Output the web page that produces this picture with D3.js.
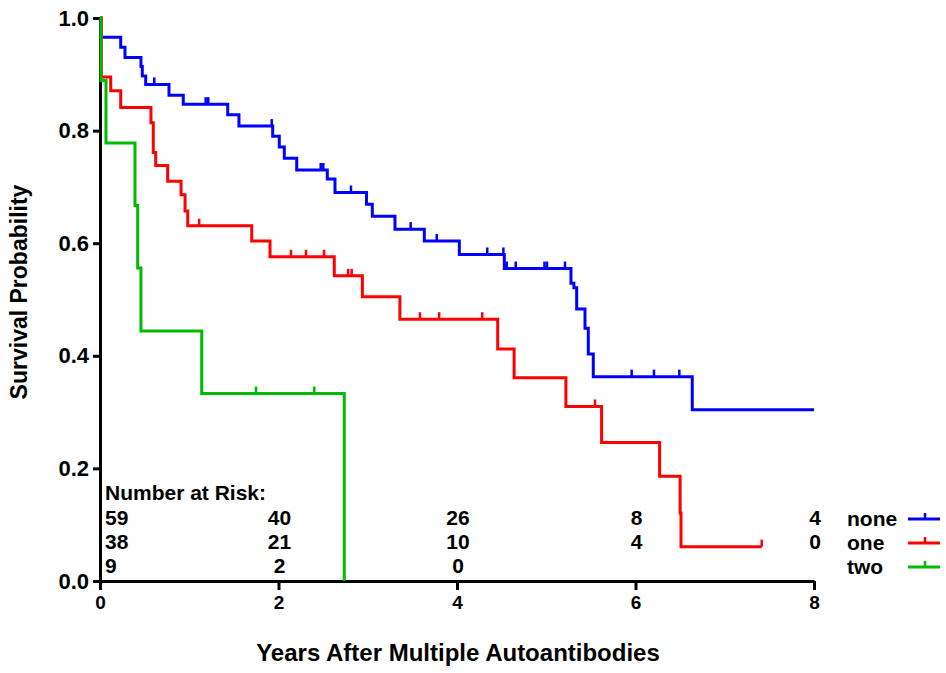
<!DOCTYPE html>
<html>
<head>
<meta charset="utf-8">
<script src="https://cdn.jsdelivr.net/npm/d3@7"></script>
<style>
  body { margin: 0; background: #fff; }
  svg { display: block; font-family: "Liberation Sans", Arial, sans-serif; font-weight: bold; }
</style>
</head>
<body>
<div id="chart"></div>
<script>
// Kaplan-Meier steps: [years, survival]
const noneSteps = [
  [0, 1], [0.011, 0.966], [0.232, 0.948], [0.28, 0.93], [0.459, 0.914], [0.474, 0.897],
  [0.512, 0.882], [0.773, 0.863], [0.933, 0.847], [1.431, 0.828], [1.557, 0.808],
  [1.935, 0.79], [2.009, 0.771], [2.065, 0.751], [2.204, 0.73], [2.547, 0.714],
  [2.633, 0.69], [2.986, 0.669], [3.051, 0.648], [3.305, 0.625], [3.634, 0.604],
  [4.026, 0.58], [4.53, 0.555], [5.277, 0.529], [5.31, 0.521], [5.341, 0.483],
  [5.434, 0.449], [5.471, 0.403], [5.527, 0.363], [6.636, 0.304], [8.0, 0.304]
];
const noneCensor = [0.608, 1.184, 1.213, 1.924, 2.473, 2.502, 2.812, 3.481, 3.773,
  4.339, 4.52, 4.557, 4.658, 4.98, 5.008, 5.21, 5.957, 6.207, 6.491];

const oneSteps = [
  [0, 1], [0.015, 0.895], [0.12, 0.871], [0.232, 0.841], [0.571, 0.814], [0.597, 0.761],
  [0.624, 0.738], [0.758, 0.71], [0.908, 0.686], [0.953, 0.657], [0.983, 0.631],
  [1.70, 0.604], [1.905, 0.576], [2.625, 0.542], [2.94, 0.505], [3.36, 0.465],
  [4.456, 0.412], [4.64, 0.361], [5.22, 0.31], [5.62, 0.246], [6.27, 0.186],
  [6.50, 0.121], [6.51, 0.061], [7.414, 0.061]
];
const oneCensor = [1.111, 2.14, 2.308, 2.51, 2.78, 2.82, 3.585, 3.80, 4.283, 5.546, 7.414];

const twoSteps = [
  [0, 1], [0.011, 0.889], [0.067, 0.778], [0.392, 0.667], [0.422, 0.556],
  [0.459, 0.444], [1.14, 0.333], [2.737, 0], [2.737, 0]
];
const twoCensor = [1.748, 2.401];

// number at risk table
const riskTimes = [0, 2, 4, 6, 8];
const riskNone = [59, 40, 26, 8, 4];
const riskOne = [38, 21, 10, 4, 0];
const riskTwo = [9, 2, 0];

const xTicks = [0, 2, 4, 6, 8];
const yTicks = [0, 0.2, 0.4, 0.6, 0.8, 1.0];

const groups = [
  { name: "none", steps: noneSteps, censor: noneCensor, risk: riskNone, color: "#0000ff" },
  { name: "one", steps: oneSteps, censor: oneCensor, risk: riskOne, color: "#ff0000" },
  { name: "two", steps: twoSteps, censor: twoCensor, risk: riskTwo, color: "#00bb00" }
];

const W = 946, H = 673;
const svg = d3.select("#chart").append("svg").attr("width", W).attr("height", H);

const x = d3.scaleLinear().domain([0, 8]).range([100, 814]);
const y = d3.scaleLinear().domain([0, 1]).range([581, 18]);

// axes
const yAxis = svg.append("g")
  .attr("transform", `translate(${x(0)},0)`)
  .call(d3.axisLeft(y).tickValues(yTicks).tickFormat(d3.format(".1f")).tickSize(7).tickSizeOuter(0).tickPadding(4));
yAxis.selectAll("text").attr("font-size", "22px").attr("font-family", null).attr("fill", "#000");

const xAxis = svg.append("g")
  .attr("transform", `translate(0,${y(0)})`)
  .call(d3.axisBottom(x).tickValues(xTicks).tickFormat(d3.format("d")).tickSize(9).tickSizeOuter(0).tickPadding(6));
xAxis.selectAll("text").attr("font-size", "19px").attr("font-family", null).attr("fill", "#000");

svg.selectAll(".domain, .tick line").attr("stroke", "#000").attr("stroke-width", 3);

// axis titles
svg.append("text")
  .attr("x", 458).attr("y", 661)
  .attr("text-anchor", "middle")
  .attr("font-size", "24px")
  .text("Years After Multiple Autoantibodies");

svg.append("text")
  .attr("transform", "translate(27,292) rotate(-90)")
  .attr("text-anchor", "middle")
  .attr("font-size", "23px")
  .text("Survival Probability");

// curves
const stepLine = d3.line()
  .x(d => x(d[0]))
  .y(d => y(d[1]))
  .curve(d3.curveStepAfter);

function survAt(steps, t) {
  let s = steps[0][1];
  for (const p of steps) { if (p[0] <= t) s = p[1]; }
  return s;
}

groups.forEach(g => {
  svg.append("path")
    .datum(g.steps)
    .attr("d", stepLine)
    .attr("fill", "none")
    .attr("stroke", g.color)
    .attr("stroke-width", 3);

  svg.selectAll(null)
    .data(g.censor)
    .join("line")
    .attr("x1", d => x(d)).attr("x2", d => x(d))
    .attr("y1", d => y(survAt(g.steps, d)))
    .attr("y2", d => y(survAt(g.steps, d)) - 7)
    .attr("stroke", g.color)
    .attr("stroke-width", 2.5);
});

// number at risk
svg.append("text")
  .attr("x", 105).attr("y", 500)
  .attr("font-size", "21px")
  .text("Number at Risk:");

const rowY = [525, 549, 573];
groups.forEach((g, i) => {
  svg.selectAll(null)
    .data(g.risk)
    .join("text")
    .attr("x", (d, j) => j === 0 ? 105 : x(riskTimes[j]) + 1)
    .attr("y", rowY[i])
    .attr("text-anchor", (d, j) => j === 0 ? "start" : "middle")
    .attr("font-size", "21px")
    .text(d => d);

  // legend
  svg.append("text")
    .attr("x", 847).attr("y", rowY[i] + 1)
    .attr("font-size", "21px")
    .text(g.name);
  const ly = rowY[i] - 6;
  svg.append("line")
    .attr("x1", 908).attr("x2", 940).attr("y1", ly).attr("y2", ly)
    .attr("stroke", g.color).attr("stroke-width", 3);
  svg.append("line")
    .attr("x1", 925).attr("x2", 925).attr("y1", ly).attr("y2", ly - 6)
    .attr("stroke", g.color).attr("stroke-width", 2.5);
});
</script>
</body>
</html>
